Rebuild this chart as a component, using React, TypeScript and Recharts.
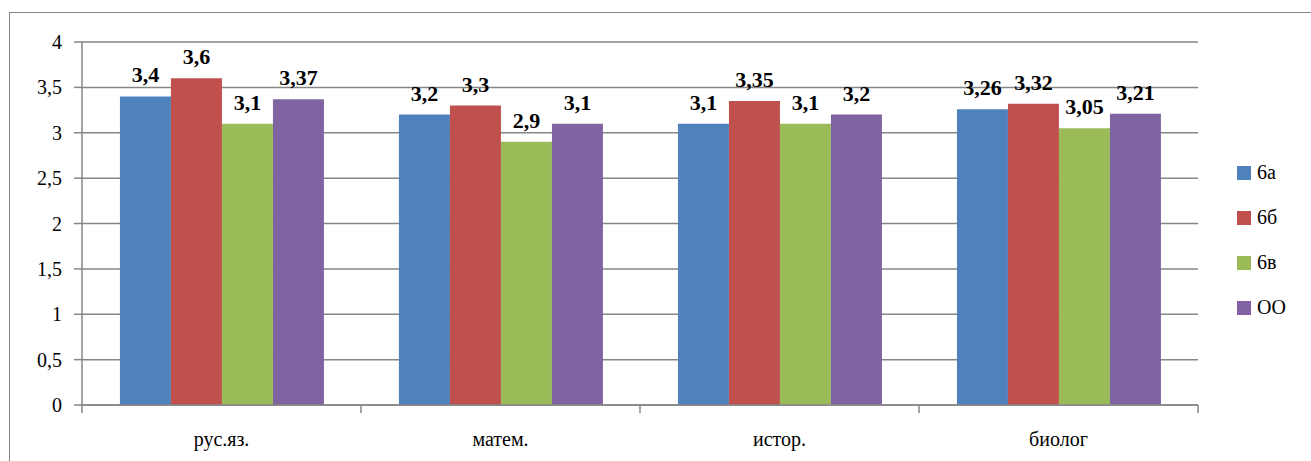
import { Bar, BarChart, CartesianGrid, LabelList, XAxis, YAxis } from 'recharts';

const subjects = ['рус.яз.', 'матем.', 'истор.', 'биолог'];
const class6a = [3.4, 3.2, 3.1, 3.26];
const class6b = [3.6, 3.3, 3.35, 3.32];
const class6v = [3.1, 2.9, 3.1, 3.05];
const schoolOO = [3.37, 3.1, 3.2, 3.21];
const yTicks = [0, 0.5, 1, 1.5, 2, 2.5, 3, 3.5, 4];

const series = [
  { key: 'a', name: '6а', color: '#4F81BD', values: class6a },
  { key: 'b', name: '6б', color: '#C0504D', values: class6b },
  { key: 'v', name: '6в', color: '#9BBB59', values: class6v },
  { key: 'oo', name: 'ОО', color: '#8064A2', values: schoolOO },
];

const data = subjects.map((s, i) => {
  const row: any = { subject: s };
  series.forEach((ser) => {
    row[ser.key] = ser.values[i];
  });
  return row;
});

const serif = 'Liberation Serif';
const axisGray = '#868686';
const comma = (v: any) => String(v).replace('.', ',');

function XTick(props: any) {
  const { x, y, payload, index } = props;
  const half = payload && payload.offset ? payload.offset : 139.5;
  const last = index === subjects.length - 1;
  return (
    <g>
      <line x1={x - half} y1={y - 8} x2={x - half} y2={y} stroke={axisGray} strokeWidth={1.5} />
      {last && <line x1={x + half} y1={y - 8} x2={x + half} y2={y} stroke={axisGray} strokeWidth={1.5} />}
      <text x={x} y={y + 33} textAnchor="middle" style={{ fontFamily: serif, fontSize: 20 }} fill="#000">
        {payload.value}
      </text>
    </g>
  );
}

function YTick(props: any) {
  const { x, y, payload } = props;
  return (
    <text x={x} y={y + 7} textAnchor="end" style={{ fontFamily: serif, fontSize: 20 }} fill="#000">
      {comma(payload.value)}
    </text>
  );
}

function BarLabel(props: any) {
  const { x, y, width, value } = props;
  return (
    <text x={x + width / 2} y={y - 14} textAnchor="middle" style={{ fontFamily: serif, fontSize: 22, fontWeight: 'bold' }} fill="#000">
      {comma(value)}
    </text>
  );
}

export default function App() {
  return (
    <div style={{ position: 'absolute', left: 0, top: 0, width: 1311, height: 461, overflow: 'hidden', background: '#fff' }}>
      <style>{'.chartbox, .chartbox text, .chartbox tspan, .chartbox span { font-family: "Liberation Serif", serif !important; }'}</style>
      <div
        style={{
          position: 'absolute',
          left: 9,
          top: 12,
          width: 1330,
          height: 480,
          border: '1.5px solid #868686',
          boxSizing: 'border-box',
        }}
      />
      <div className="chartbox" style={{ position: 'absolute', left: 0, top: 0 }}>
        <BarChart
          width={1311}
          height={461}
          data={data}
          margin={{ top: 42, right: 113, bottom: 26, left: 0 }}
          barGap={0}
          barCategoryGap="13.6%"
        >
          <CartesianGrid vertical={false} stroke={axisGray} strokeWidth={1.5} />
          <XAxis
            dataKey="subject"
            height={30}
            stroke={axisGray}
            strokeWidth={1.5}
            tickLine={false}
            tick={<XTick />}
            interval={0}
          />
          <YAxis
            width={82}
            domain={[0, 4]}
            ticks={yTicks}
            interval={0}
            tickSize={8}
            tickMargin={12}
            stroke={axisGray}
            strokeWidth={1.5}
            tick={<YTick />}
          />
          {series.map((s) => (
            <Bar key={s.key} dataKey={s.key} name={s.name} fill={s.color} isAnimationActive={false}>
              <LabelList dataKey={s.key} content={<BarLabel />} />
            </Bar>
          ))}
        </BarChart>
      </div>
      <div className="chartbox" style={{ position: 'absolute', left: 1237, top: 150, fontSize: 20, color: '#000', fontFamily: serif }}>
        {series.map((s) => (
          <div key={s.key} style={{ display: 'flex', alignItems: 'center', height: 45 }}>
            <span style={{ width: 14, height: 14, background: s.color, display: 'inline-block', marginRight: 6 }} />
            <span>{s.name}</span>
          </div>
        ))}
      </div>
    </div>
  );
}
